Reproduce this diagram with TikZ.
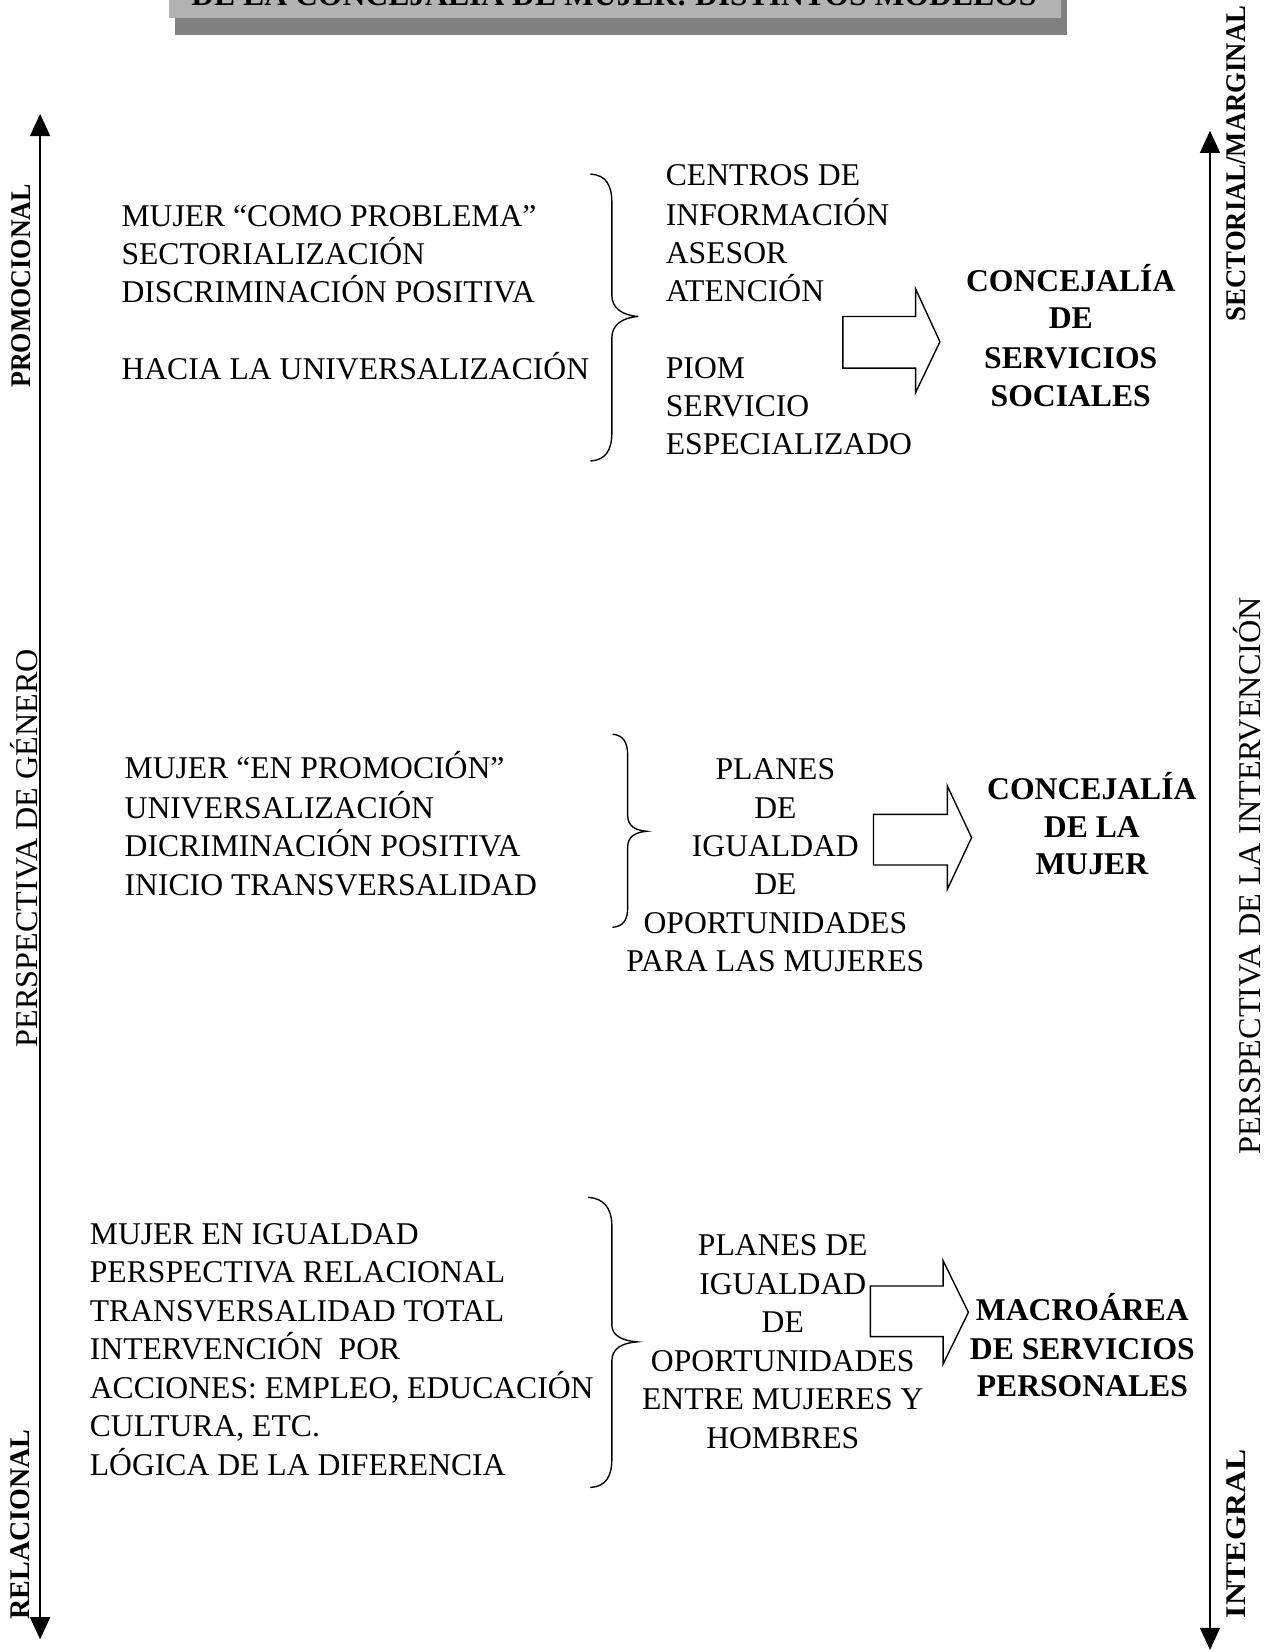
\documentclass[tikz,border=0pt]{standalone}
\usepackage{fontspec}
\setmainfont{Liberation Serif}
\usepackage{graphicx}
\usetikzlibrary{arrows.meta}
\definecolor{titlegray}{HTML}{B3B3B3}
\definecolor{shadowgray}{HTML}{808080}
\begin{document}
\begin{tikzpicture}[x=1pt,y=-1pt,
  txt/.style={inner sep=0pt, font=\fontsize{30}{36}\selectfont},
  btxt/.style={inner sep=0pt, font=\fontsize{30}{36}\selectfont\bfseries},
  axis/.style={line width=1.6pt, {Triangle[length=21pt,width=19pt]}-{Triangle[length=21pt,width=19pt]}},
  bracestyle/.style={line width=1.3pt, line cap=round},
  blockarrow/.style={line width=1.3pt, line join=miter}]
\useasboundingbox (0,0) rectangle (1200,1566);
% title box
\fill[shadowgray] (166,-20) rectangle (1011,33);
\fill[titlegray] (160,-20) rectangle (1006,17);
\node[btxt, anchor=base] (title) at (582,5) {DE LA CONCEJALÍA DE MUJER: DISTINTOS MODELOS};
% axes
\coordinate (ltop) at (38,108);
\coordinate (lbot) at (38,1554);
\coordinate (rtop) at (1147,124);
\coordinate (rbot) at (1147,1564);
\draw[axis] (lbot) -- (ltop);
\draw[axis] (rbot) -- (rtop);
% axis labels
\node[rotate=90, inner sep=0pt] (promo) at (20,271) {\fontsize{27}{30}\selectfont\bfseries\resizebox{193pt}{\height}{PROMOCIONAL}};
\node[rotate=90, inner sep=0pt] (genero) at (23,804) {\fontsize{30}{36}\selectfont\resizebox{377pt}{\height}{PERSPECTIVA DE GÉNERO}};
\node[rotate=90, inner sep=0pt] (relac) at (19,1445) {\fontsize{27}{30}\selectfont\bfseries\resizebox{180pt}{\height}{RELACIONAL}};
\node[rotate=90, inner sep=0pt] (sector) at (1172,155) {\fontsize{27}{30}\selectfont\bfseries\resizebox{299pt}{\height}{SECTORIAL/MARGINAL}};
\node[rotate=90, inner sep=0pt] (interv) at (1182,830) {\fontsize{30}{36}\selectfont\resizebox{528pt}{\height}{PERSPECTIVA DE LA INTERVENCIÓN}};
\node[rotate=90, inner sep=0pt] (integ) at (1172,1454) {\fontsize{27}{30}\selectfont\bfseries\resizebox{160pt}{\height}{INTEGRAL}};
% ---------- section 1
\foreach \y/\t [count=\i] in {205/{MUJER “COMO PROBLEMA”},241/{SECTORIALIZACIÓN},277/{DISCRIMINACIÓN POSITIVA},350/{HACIA LA UNIVERSALIZACIÓN}}
  \node[txt, anchor=base west] (a\i) at (115,{\y+10}) {\t};
\draw[bracestyle] (560,165) .. controls (574,166) and (580,175) .. (580,192) -- (580,280) .. controls (580,292) and (590,299) .. (605,300) .. controls (590,301) and (580,308) .. (580,320) -- (580,410) .. controls (580,427) and (574,436) .. (560,437);
\foreach \y/\t [count=\i] in {166/{CENTROS DE},204/{INFORMACIÓN},240/{ASESOR},276/{ATENCIÓN},349/{PIOM},385/{SERVICIO},421/{ESPECIALIZADO}}
  \node[txt, anchor=base west] (b\i) at (631,{\y+10}) {\t};
\draw[blockarrow] (799,300) -- (868,300) -- (868,274) -- (891,324) -- (868,372) -- (868,349) -- (799,349) -- cycle;
\foreach \y/\t [count=\i] in {266/{CONCEJALÍA},301/{DE},339/{SERVICIOS},375/{SOCIALES}}
  \node[btxt, anchor=base] (g\i) at (1015,{\y+10}) {\t};
% ---------- section 2
\foreach \y/\t [count=\i] in {728/{MUJER “EN PROMOCIÓN”},766/{UNIVERSALIZACIÓN},802/{DICRIMINACIÓN POSITIVA},839/{INICIO TRANSVERSALIDAD}}
  \node[txt, anchor=base west] (c\i) at (118,{\y+10}) {\t};
\draw[bracestyle] (581,696) .. controls (591,697) and (595,704) .. (595,716) -- (595,773) .. controls (595,783) and (602,787) .. (613,788) .. controls (602,789) and (595,793) .. (595,803) -- (595,860) .. controls (595,872) and (591,878) .. (581,879);
\foreach \y/\t [count=\i] in {729/{PLANES},766/{DE},802/{IGUALDAD},838/{DE},875/{OPORTUNIDADES},911/{PARA LAS MUJERES}}
  \node[txt, anchor=base] (d\i) at (735,{\y+10}) {\t};
\draw[blockarrow] (828,772) -- (898,772) -- (898,745) -- (921,794) -- (898,843) -- (898,820) -- (828,820) -- cycle;
\foreach \y/\t [count=\i] in {748/{CONCEJALÍA},784/{DE LA},819/{MUJER}}
  \node[btxt, anchor=base] (h\i) at (1035,{\y+10}) {\t};
% ---------- section 3
\foreach \y/\t [count=\i] in {1170/{MUJER EN IGUALDAD},1206/{PERSPECTIVA RELACIONAL},1243/{TRANSVERSALIDAD TOTAL},1279/{INTERVENCIÓN\ \ POR},1316/{ACCIONES: EMPLEO, EDUCACIÓN},1352/{CULTURA, ETC.},1389/{LÓGICA DE LA DIFERENCIA}}
  \node[txt, anchor=base west] (e\i) at (85,{\y+10}) {\t};
\draw[bracestyle] (558,1135) .. controls (572,1136) and (580,1145) .. (580,1162) -- (580,1256) .. controls (580,1266) and (590,1271) .. (604,1272) .. controls (590,1273) and (580,1278) .. (580,1290) -- (580,1383) .. controls (580,1400) and (574,1409) .. (560,1410);
\foreach \y/\t [count=\i] in {1180/{PLANES DE},1217/{IGUALDAD},1253/{DE},1290/{OPORTUNIDADES},1326/{ENTRE MUJERES Y},1363/{HOMBRES}}
  \node[txt, anchor=base] (f\i) at (742,{\y+10}) {\t};
\draw[blockarrow] (825,1219) -- (894,1219) -- (894,1195) -- (918,1244) -- (894,1293) -- (894,1267) -- (825,1267) -- cycle;
\foreach \y/\t [count=\i] in {1242/{MACROÁREA},1279/{DE SERVICIOS},1314/{PERSONALES}}
  \node[btxt, anchor=base] (k\i) at (1026,{\y+10}) {\t};
\end{tikzpicture}
\end{document}
